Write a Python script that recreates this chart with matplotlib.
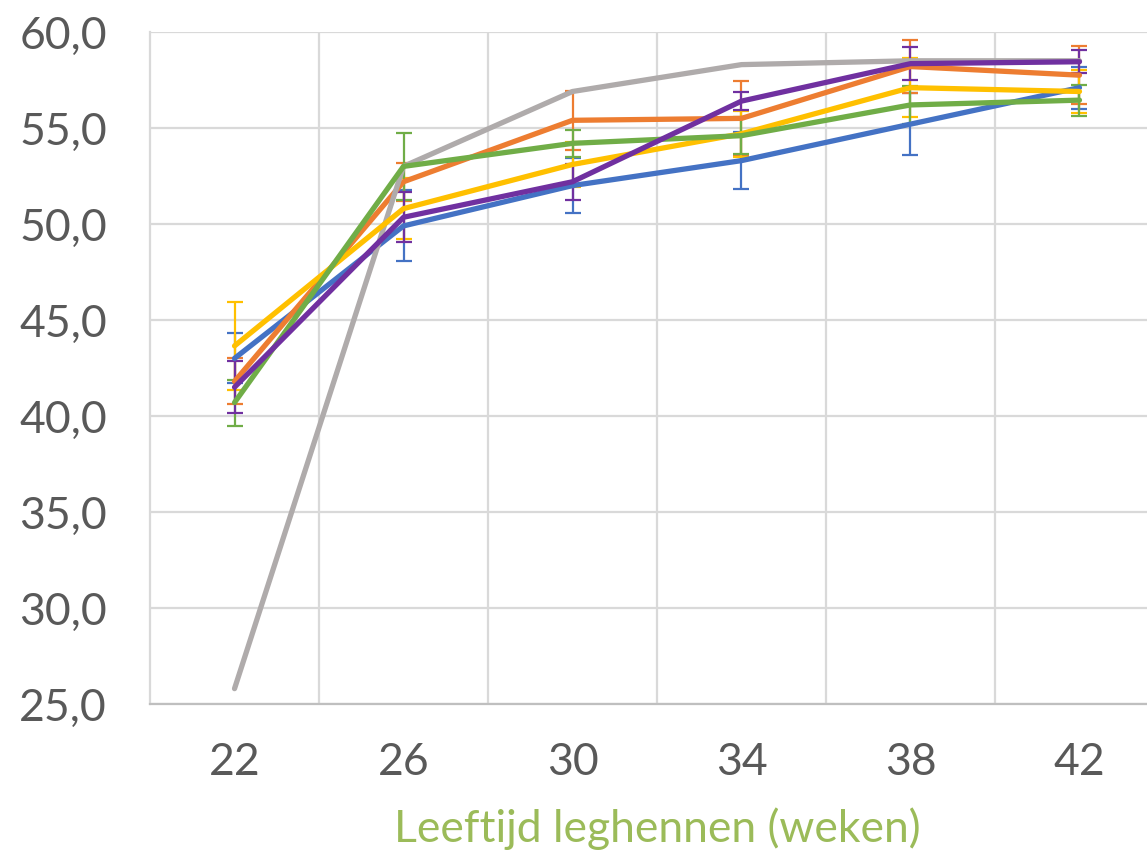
import matplotlib
matplotlib.use("Agg")
import matplotlib.pyplot as plt
import numpy as np

plt.rcParams['font.family'] = ['Lato', 'DejaVu Sans']

# leeftijd in weken
weken = ['22', '26', '30', '34', '38', '42']

# gemiddelden per reeks
blauw = [43.0, 49.9, 52.0, 53.3, 55.2, 57.1]
oranje = [41.8, 52.2, 55.4, 55.5, 58.2, 57.75]
grijs = [25.8, 53.0, 56.9, 58.3, 58.5, 58.5]
geel = [43.65, 50.8, 53.1, 54.7, 57.1, 56.9]
groen = [40.7, 53.0, 54.2, 54.6, 56.2, 56.45]
paars = [41.5, 50.35, 52.2, 56.4, 58.35, 58.45]

# foutbalken (sd)
blauw_sd = [1.3, 1.85, 1.45, 1.5, 1.6, 1.1]
oranje_sd = [1.2, 1.0, 1.55, 1.95, 1.4, 1.5]
geel_sd = [2.3, 1.6, 1.15, 1.2, 1.55, 1.1]
groen_sd = [1.2, 1.75, 0.7, 0.95, 1.0, 0.8]
paars_sd = [1.35, 1.3, 0.95, 0.45, 0.85, 0.6]

x = np.arange(len(weken))

fig = plt.figure(figsize=(11.47, 8.55), dpi=100)
ax = fig.add_axes([0.1308, 0.1766, 0.884, 0.786])

reeksen = [
    (blauw, blauw_sd, '#4472C4'),
    (oranje, oranje_sd, '#ED7D31'),
    (grijs, None, '#AFABAB'),
    (geel, geel_sd, '#FFC000'),
    (groen, groen_sd, '#70AD47'),
    (paars, paars_sd, '#7030A0'),
]

for i, (y, sd, kleur) in enumerate(reeksen):
    if sd is not None:
        ax.errorbar(x, y, yerr=sd, fmt='none', ecolor=kleur, elinewidth=1.6,
                    capsize=6, capthick=1.6, zorder=3 + i)
    ax.plot(x, y, color=kleur, lw=3.8, solid_capstyle='round',
            solid_joinstyle='round', zorder=10 + i)

ax.set_xlim(-0.5, 5.5)
ax.set_ylim(25, 60)
ax.set_yticks(np.arange(25, 61, 5))
ax.set_yticklabels([f'{v:.1f}'.replace('.', ',') for v in np.arange(25, 61, 5)])
ax.set_xticks(x)
ax.set_xticklabels(weken)

ax.set_xticks(np.arange(0.5, 5, 1), minor=True)
ax.grid(axis='y', color='#D9D9D9', lw=1.6, zorder=0)
ax.grid(axis='x', which='minor', color='#D9D9D9', lw=1.6, zorder=0)

for s in ['top', 'right']:
    ax.spines[s].set_visible(False)
ax.spines['left'].set_color('#D9D9D9')
ax.spines['left'].set_linewidth(1.6)
ax.spines['bottom'].set_color('#BFBFBF')
ax.spines['bottom'].set_linewidth(1.6)

ax.tick_params(axis='both', which='both', length=0, labelsize=32,
               labelcolor='#595959')
ax.tick_params(axis='y', pad=31)
ax.tick_params(axis='x', pad=27)

ax.set_xlabel('Leeftijd leghennen (weken)', fontsize=32, color='#9BBB59',
              labelpad=18)

fig.savefig('out.png', dpi=100)
